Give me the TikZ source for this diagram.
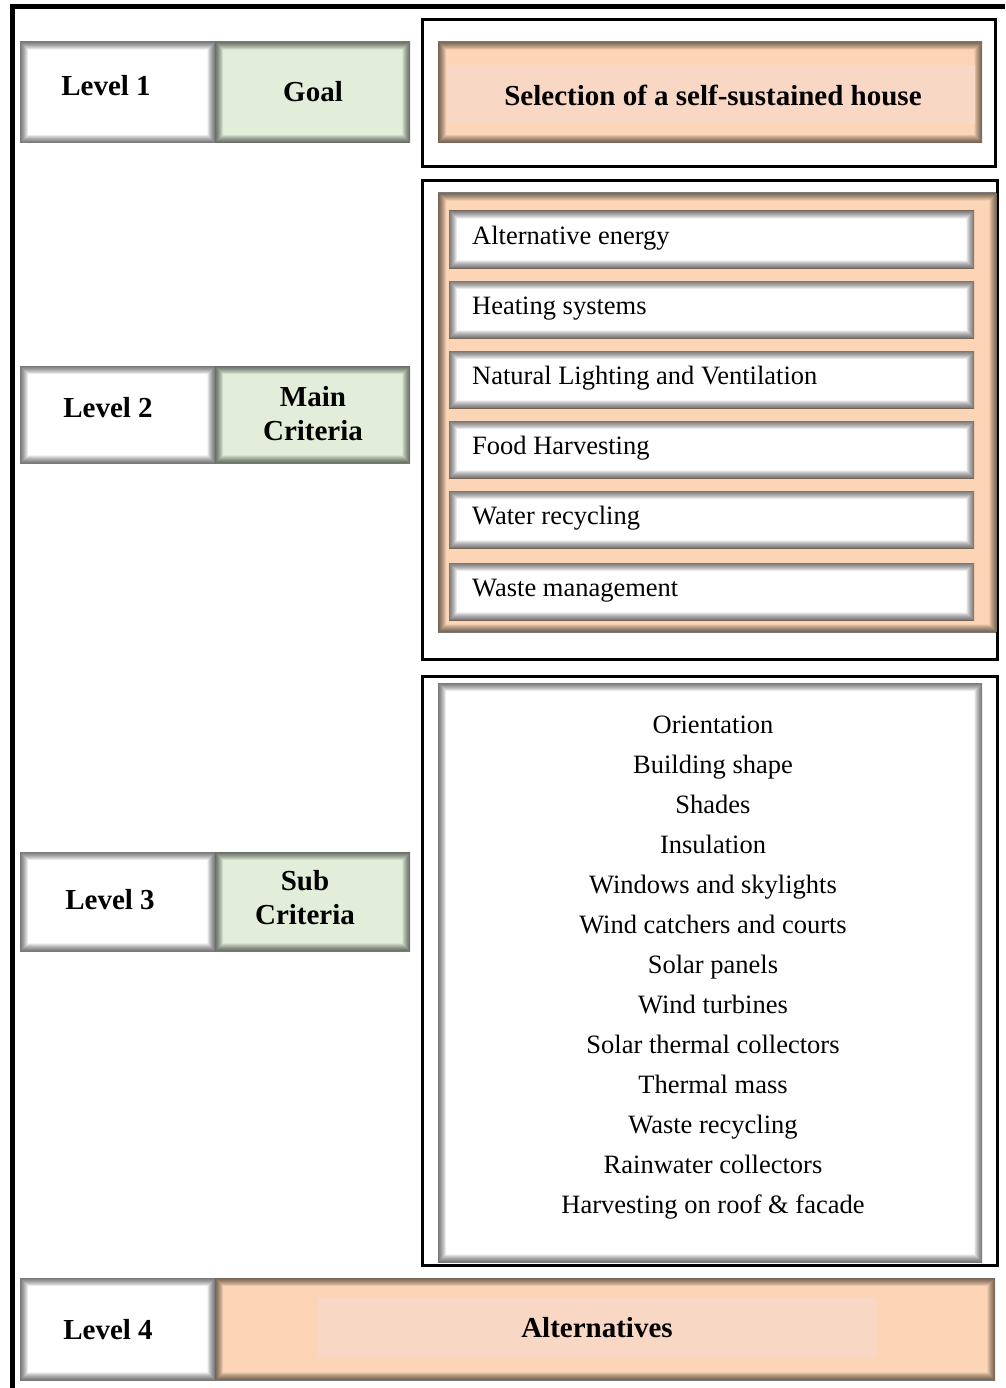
\documentclass[tikz,border=0pt]{standalone}
\usepackage{fontspec}
\setmainfont{Liberation Serif}
\definecolor{peach}{HTML}{FBD5B5}
\definecolor{peachlight}{HTML}{F8D8C4}
\definecolor{sage}{HTML}{E2EEDA}
\tikzset{
  inshadow/.style={path picture={
    \foreach \w in {1,2,...,16}{
      \draw[black, opacity=0.045, line width=\w pt] (path picture bounding box.south west) rectangle (path picture bounding box.north east);
    }
  }},
  box/.style={inshadow, inner sep=0pt, outer sep=0pt},
  frame/.style={draw=black, line width=3pt, inner sep=0pt},
  big/.style={font=\fontsize{29}{34}\selectfont\bfseries, align=center},
  reg/.style={font=\fontsize{26.5}{30}\selectfont},
}
\begin{document}
\begin{tikzpicture}[x=1pt,y=-1pt]
\useasboundingbox (0,0) rectangle (1005,1388);
\fill[white] (0,0) rectangle (1005,1388);
% outer frame
\coordinate (fb) at (12,1388);
\coordinate (ft) at (12,7);
\coordinate (fr) at (1005,7);
\draw[line width=5pt] (fb) -- (ft) -- (fr);

% Level 1
\path[box, fill=white] (20,42) rectangle (215,143);
\path[box, fill=sage] (215,42) rectangle (410,143);
\node[big] (l1) at (106,86) {Level 1};
\node[big] (goal) at (313,92) {Goal};
\draw[frame] (422,20) rectangle (995,167);
\path[box, fill=peach] (438,42) rectangle (982,143);
\fill[peachlight] (448,65) rectangle (975,124);
\node[big] (sel) at (713,95) {Selection of a self-sustained house};

% Level 2
\path[box, fill=white] (20,366) rectangle (215,463);
\path[box, fill=sage] (215,366) rectangle (410,463);
\node[big] (l2) at (108,408) {Level 2};
\node[big] (main) at (313,414) {Main\\Criteria};
\draw[frame] (422,181) rectangle (997,659);
\path[box, fill=peach] (438,193) rectangle (997,632);
\foreach \i/\t/\ya/\yb in {1/Alternative energy/211/268, 2/Heating systems/281/338, 3/Natural Lighting and Ventilation/351/408, 4/Food Harvesting/421/478, 5/Water recycling/491/548, 6/Waste management/563/620}{
  \path[box, fill=white] (449,\ya) rectangle (974,\yb);
  \node[reg, anchor=base west, inner sep=0pt] (mc\i) at (472,{(\ya+\yb)/2+5}) {\t};
}

% Level 3
\path[box, fill=white] (20,852) rectangle (215,951);
\path[box, fill=sage] (215,852) rectangle (410,951);
\node[big] (l3) at (110,900) {Level 3};
\node[big] (sub) at (305,898) {Sub\\Criteria};
\draw[frame] (422,676) rectangle (997,1265);
\path[box, fill=white] (438,683) rectangle (982,1262);
\foreach \i/\t in {0/Orientation, 1/Building shape, 2/Shades, 3/Insulation, 4/Windows and skylights, 5/Wind catchers and courts, 6/Solar panels, 7/Wind turbines, 8/Solar thermal collectors, 9/Thermal mass, 10/Waste recycling, 11/Rainwater collectors, 12/Harvesting on roof \& facade}{
  \node[reg, anchor=base, inner sep=0pt] (sc\i) at (713,{733+40*\i}) {\t};
}

% Level 4
\path[box, fill=white] (20,1278) rectangle (215,1380);
\path[box, fill=peach] (215,1278) rectangle (995,1380);
\fill[peachlight] (318,1298) rectangle (877,1357);
\node[big] (l4) at (108,1330) {Level 4};
\node[big] (alt) at (597,1328) {Alternatives};
\end{tikzpicture}
\end{document}
